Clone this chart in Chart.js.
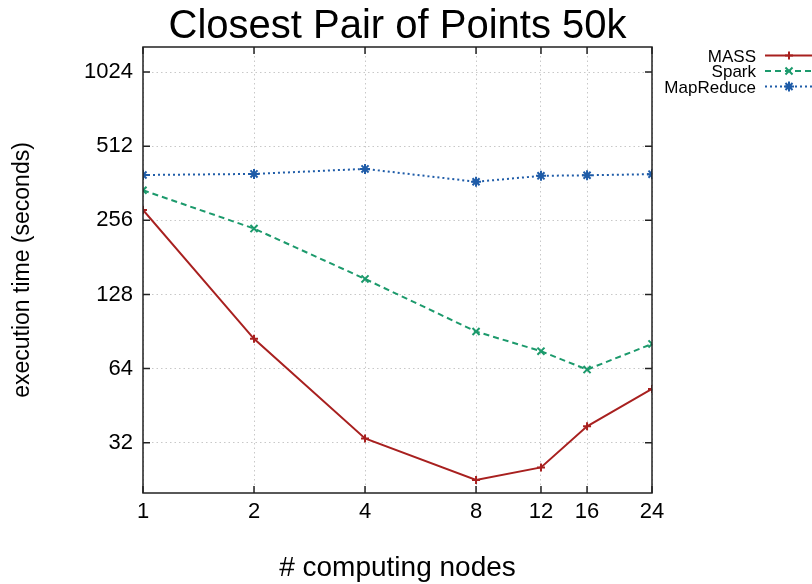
<!DOCTYPE html>
<html>
<head>
<meta charset="utf-8">
<title>Closest Pair of Points 50k</title>
<script src="https://cdn.jsdelivr.net/npm/chart.js@4/dist/chart.umd.min.js"></script>
<style>
    html, body { margin: 0; padding: 0; background: #fff; }
    #wrap { width: 812px; height: 584px; }
</style>
</head>
<body>
<div id="wrap"><canvas id="cppChart" width="812" height="584"></canvas></div>
<script>
// Number of computing nodes (x axis, log2 spaced)
const nodes = [1, 2, 4, 8, 12, 16, 24];

// Execution times in seconds
const massTimes = [282, 84.5, 33.3, 22.6, 25.4, 37.3, 52.9];
const sparkTimes = [339, 237, 148, 90.5, 75.3, 63.4, 80.6];
const mapReduceTimes = [391, 395, 414, 367, 388, 390, 394];

// Axis ticks
const xTickValues = [1, 2, 4, 8, 12, 16, 24];
const yTickValues = [32, 64, 128, 256, 512, 1024];

const FONT = "'Liberation Sans', Arial, Helvetica, sans-serif";

const series = [
    { label: 'MASS', values: massTimes, color: '#a8201f', dash: [], point: 'cross', radius: 4 },
    { label: 'Spark', values: sparkTimes, color: '#1c9a6c', dash: [6, 4], point: 'crossRot', radius: 5 },
    { label: 'MapReduce', values: mapReduceTimes, color: '#1f5ca8', dash: [2, 3], point: 'star', radius: 5 }
];

// Title, axis titles, legend and the gnuplot-style frame with inward ticks
const decorations = {
    id: 'decorations',
    afterDatasetsDraw(chart) {
        const ctx = chart.ctx;
        const area = chart.chartArea;
        const xs = chart.scales.x, ys = chart.scales.y;
        const cx = (area.left + area.right) / 2;
        const cy = (area.top + area.bottom) / 2;

        ctx.save();
        // frame
        ctx.strokeStyle = '#222';
        ctx.lineWidth = 1.5;
        ctx.setLineDash([]);
        ctx.strokeRect(area.left, area.top, area.right - area.left, area.bottom - area.top);

        // inward tick marks on all four sides
        const tl = 7;
        ctx.beginPath();
        yTickValues.forEach(v => {
            const p = ys.getPixelForValue(v);
            ctx.moveTo(area.left, p); ctx.lineTo(area.left + tl, p);
            ctx.moveTo(area.right, p); ctx.lineTo(area.right - tl, p);
        });
        xTickValues.forEach(v => {
            const p = xs.getPixelForValue(v);
            ctx.moveTo(p, area.bottom); ctx.lineTo(p, area.bottom - tl);
            ctx.moveTo(p, area.top); ctx.lineTo(p, area.top + tl);
        });
        ctx.stroke();

        ctx.fillStyle = '#000';
        ctx.textBaseline = 'alphabetic';

        // chart title
        ctx.font = '40px ' + FONT;
        ctx.textAlign = 'center';
        ctx.fillText('Closest Pair of Points 50k', cx, 38);

        // x axis title
        ctx.font = '28px ' + FONT;
        ctx.fillText('# computing nodes', cx, 576);

        // y axis title
        ctx.save();
        ctx.translate(29, cy);
        ctx.rotate(-Math.PI / 2);
        ctx.font = '23px ' + FONT;
        ctx.fillText('execution time (seconds)', 0, 0);
        ctx.restore();

        // legend (top right, outside the plot)
        ctx.font = '17px ' + FONT;
        ctx.textAlign = 'right';
        series.forEach((s, i) => {
            const base = 61.5 + i * 15.5;
            const mid = base - 6;
            ctx.fillStyle = '#000';
            ctx.fillText(s.label, 756, base);
            ctx.strokeStyle = s.color;
            ctx.lineWidth = 2;
            ctx.setLineDash(s.dash);
            ctx.beginPath();
            ctx.moveTo(765, mid);
            ctx.lineTo(814, mid);
            ctx.stroke();
            ctx.setLineDash([]);
            ctx.fillStyle = s.color;
            Chart.helpers.drawPoint(ctx, {
                pointStyle: s.point, radius: s.radius, rotation: 0, borderWidth: 2
            }, 789, mid);
        });
        ctx.restore();
    }
};

const ctx = document.getElementById('cppChart').getContext('2d');
const cppChart = new Chart(ctx, {
    type: 'line',
    data: {
        datasets: series.map(s => ({
            label: s.label,
            data: nodes.map((n, i) => ({ x: n, y: s.values[i] })),
            borderColor: s.color,
            backgroundColor: s.color,
            borderWidth: 2,
            borderDash: s.dash,
            pointStyle: s.point,
            pointRadius: s.radius,
            pointBorderWidth: 2,
            pointBorderColor: s.color,
            tension: 0,
            fill: false
        }))
    },
    options: {
        responsive: false,
        animation: false,
        devicePixelRatio: 1,
        layout: {
            padding: { top: 47, right: 160, bottom: 0, left: 0 }
        },
        plugins: {
            legend: { display: false },
            title: { display: false },
            tooltip: { enabled: false }
        },
        scales: {
            x: {
                type: 'logarithmic',
                min: 1,
                max: 24,
                bounds: 'data',
                afterBuildTicks: axis => { axis.ticks = xTickValues.map(v => ({ value: v })); },
                afterFit: axis => { axis.height = 91; },
                grid: { color: '#c8c8c8', lineWidth: 1, drawTicks: false },
                border: { display: false, dash: [1.5, 3] },
                ticks: {
                    autoSkip: false,
                    maxRotation: 0,
                    padding: 6,
                    color: '#000',
                    font: { family: FONT, size: 22 },
                    callback: v => String(v)
                }
            },
            y: {
                type: 'logarithmic',
                min: 20,
                max: 1294,
                bounds: 'data',
                afterBuildTicks: axis => { axis.ticks = yTickValues.map(v => ({ value: v })); },
                afterFit: axis => { axis.width = 143; },
                grid: { color: '#c8c8c8', lineWidth: 1, drawTicks: false },
                border: { display: false, dash: [1.5, 3] },
                ticks: {
                    autoSkip: false,
                    padding: 10,
                    color: '#000',
                    font: { family: FONT, size: 22 },
                    callback: v => String(v)
                }
            }
        }
    },
    plugins: [decorations]
});
</script>
</body>
</html>
